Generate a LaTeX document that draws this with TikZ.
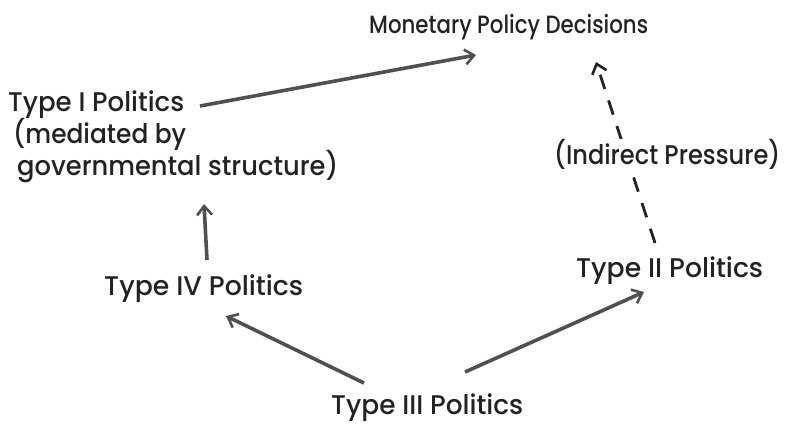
\documentclass[tikz,border=0pt]{standalone}
\usepackage{graphicx}
\usepackage{fontspec}
\setmainfont{Poppins}[UprightFont={* Medium}]
\usetikzlibrary{arrows.meta}
\definecolor{txt}{HTML}{222222}
\definecolor{ln}{HTML}{505050}
\newcommand{\fitw}[2]{\resizebox{#1pt}{\height}{#2}}
\begin{document}
\begin{tikzpicture}[x=1pt,y=-1pt,
  lbl/.style={text=txt,font=\fontsize{27}{32}\selectfont,inner sep=0pt,anchor=base west},
  conn/.style={draw=ln,line width=3.6pt,-{Straight Barb[length=9pt,width=15pt,line width=2.6pt]}},
  dconn/.style={conn,draw=txt,dash pattern=on 15pt off 12pt,line width=2.8pt}]
\useasboundingbox (0,0) rectangle (791,423);
\coordinate (a1s) at (200,106);
\coordinate (a1e) at (476,55);
\coordinate (a4s) at (207,260);
\coordinate (a4e) at (204,204);
\coordinate (a2s) at (655,243);
\coordinate (a2e) at (596,62);
\coordinate (b1s) at (364,383);
\coordinate (b1e) at (226,316);
\coordinate (b2s) at (465,372);
\coordinate (b2e) at (644,292);
\draw[dconn] (a2s) -- (a2e);
\node[lbl,font=\fontsize{25}{30}\selectfont] (mpd) at (369,33) {\fitw{279}{Monetary Policy Decisions}};
\node[lbl] (t1) at (8,111) {\fitw{176}{Type I Politics}};
\node[lbl] (t1b) at (13,143) {\fitw{173}{(mediated by}};
\node[lbl] (t1c) at (17,175) {\fitw{321}{governmental structure)}};
\node[lbl,fill=white] (ind) at (554,164) {\fitw{226}{(Indirect Pressure)}};
\node[lbl] (t2) at (576,277) {\fitw{187}{Type II Politics}};
\node[lbl] (t4) at (104,295) {\fitw{199}{Type IV Politics}};
\node[lbl] (t3) at (331,414) {\fitw{192}{Type III Politics}};
\draw[conn] (a1s) -- (a1e);
\draw[conn] (a4s) -- (a4e);
\draw[conn] (b1s) -- (b1e);
\draw[conn] (b2s) -- (b2e);
\end{tikzpicture}
\end{document}
